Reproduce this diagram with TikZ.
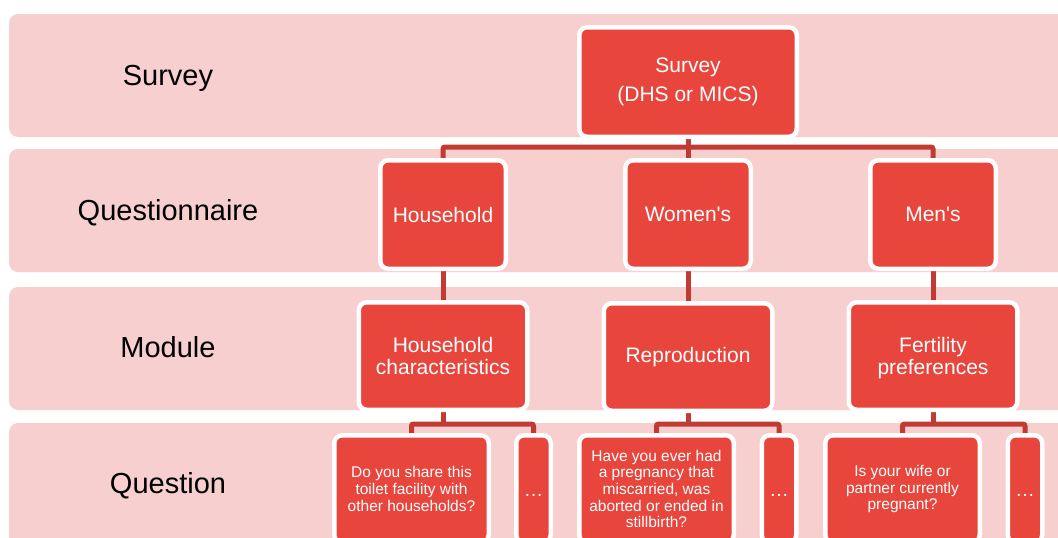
\documentclass[tikz,border=0pt]{standalone}
\usepackage{fontspec}
\setmainfont{Liberation Sans}
\pgfdeclarelayer{canvas}
\pgfdeclarelayer{bands}
\pgfdeclarelayer{links}
\pgfsetlayers{canvas,bands,links,main}
\definecolor{bandpink}{HTML}{F6CFCE}
\definecolor{boxred}{HTML}{E8453C}
\definecolor{linkred}{HTML}{C23B33}
\tikzset{
  band/.style={fill=bandpink, rounded corners=9pt},
  box/.style={rectangle, fill=boxred, draw=white, line width=4.5pt, rounded corners=8pt,
    text=white, align=center, inner sep=0pt},
  topbox/.style={box, minimum width=217.5pt, minimum height=109.5pt, font=\fontsize{21}{29}\selectfont},
  qnbox/.style={box, minimum width=125.5pt, minimum height=108.5pt, font=\fontsize{21}{23}\selectfont},
  modbox/.style={box, minimum width=168.5pt, minimum height=107.5pt, font=\fontsize{21}{22}\selectfont},
  qbox/.style={box, minimum width=154.5pt, minimum height=107.5pt, font=\fontsize{15.5}{16.7}\selectfont},
  dotbox/.style={box, minimum width=34.5pt, minimum height=107.5pt, font=\fontsize{19.5}{20}\selectfont},
  link/.style={draw=linkred, line width=5pt},
  lvl/.style={font=\fontsize{29}{33}\selectfont, text=black, anchor=base, inner sep=0pt},
}
\newcommand{\qdots}{\vphantom{Ag}\raisebox{-3pt}{…}}
\begin{document}
\begin{tikzpicture}[x=1pt,y=-1pt]
\useasboundingbox (0,0) rectangle (1058,538);
\clip (0,0) rectangle (1058,538);
\begin{pgfonlayer}{canvas}
  \fill[white] (0,0) rectangle (1058,538);
\end{pgfonlayer}

\begin{pgfonlayer}{bands}
  \fill[band] (9,14) rectangle (1080,137);
  \fill[band] (9,149) rectangle (1080,272);
  \fill[band] (9,287) rectangle (1080,410);
  \fill[band] (9,423) rectangle (1080,570);
\end{pgfonlayer}

% level labels
\node[lvl] (l1) at (168,85) {Survey};
\node[lvl] (l2) at (168,220) {Questionnaire};
\node[lvl] (l3) at (168,357) {Module};
\node[lvl] (l4) at (168,493) {Question};

% boxes
\node[topbox] (sv) at (688,82) {Survey\\(DHS or MICS)};

\node[qnbox] (hq) at (443,214.5) {Household};
\node[qnbox] (wq) at (688,214.5) {Women\textquotesingle s};
\node[qnbox] (mq) at (933,214.5) {Men\textquotesingle s};

\node[modbox] (hm) at (443,356) {Household\\characteristics};
\node[modbox] (wm) at (688,357) {Reproduction};
\node[modbox, text depth=0pt] (mm) at (933,356) {Fertility\\preferences};

\node[qbox] (q1) at (411.5,489) {Do you share this\\toilet facility with\\other households?};
\node[dotbox] (d1) at (533.5,489) {\qdots};
\node[qbox] (q2) at (656.5,489) {Have you ever had\\a pregnancy that\\miscarried, was\\aborted or ended in\\stillbirth?};
\node[dotbox] (d2) at (779,489) {\qdots};
\node[qbox] (q3) at (902.5,489) {Is your wife or\\partner currently\\pregnant?};
\node[dotbox] (d3) at (1025,489) {\qdots};

% connectors
\begin{pgfonlayer}{links}
  \draw[link] (sv) -- (sv |- 0,147);
  \draw[link, rounded corners=2pt] (hq) -- (hq |- 0,147) -- (mq |- 0,147) -- (mq);
  \draw[link] (wq |- 0,147) -- (wq);
  \draw[link] (hq) -- (hm);
  \draw[link] (wq) -- (wm);
  \draw[link] (mq) -- (mm);
  \draw[link] (hm) -- (hm |- 0,424);
  \draw[link, rounded corners=2pt] (q1) -- (q1 |- 0,424) -- (d1 |- 0,424) -- (d1);
  \draw[link] (wm) -- (wm |- 0,424);
  \draw[link, rounded corners=2pt] (q2) -- (q2 |- 0,424) -- (d2 |- 0,424) -- (d2);
  \draw[link] (mm) -- (mm |- 0,424);
  \draw[link, rounded corners=2pt] (q3) -- (q3 |- 0,424) -- (d3 |- 0,424) -- (d3);
\end{pgfonlayer}
\end{tikzpicture}
\end{document}
